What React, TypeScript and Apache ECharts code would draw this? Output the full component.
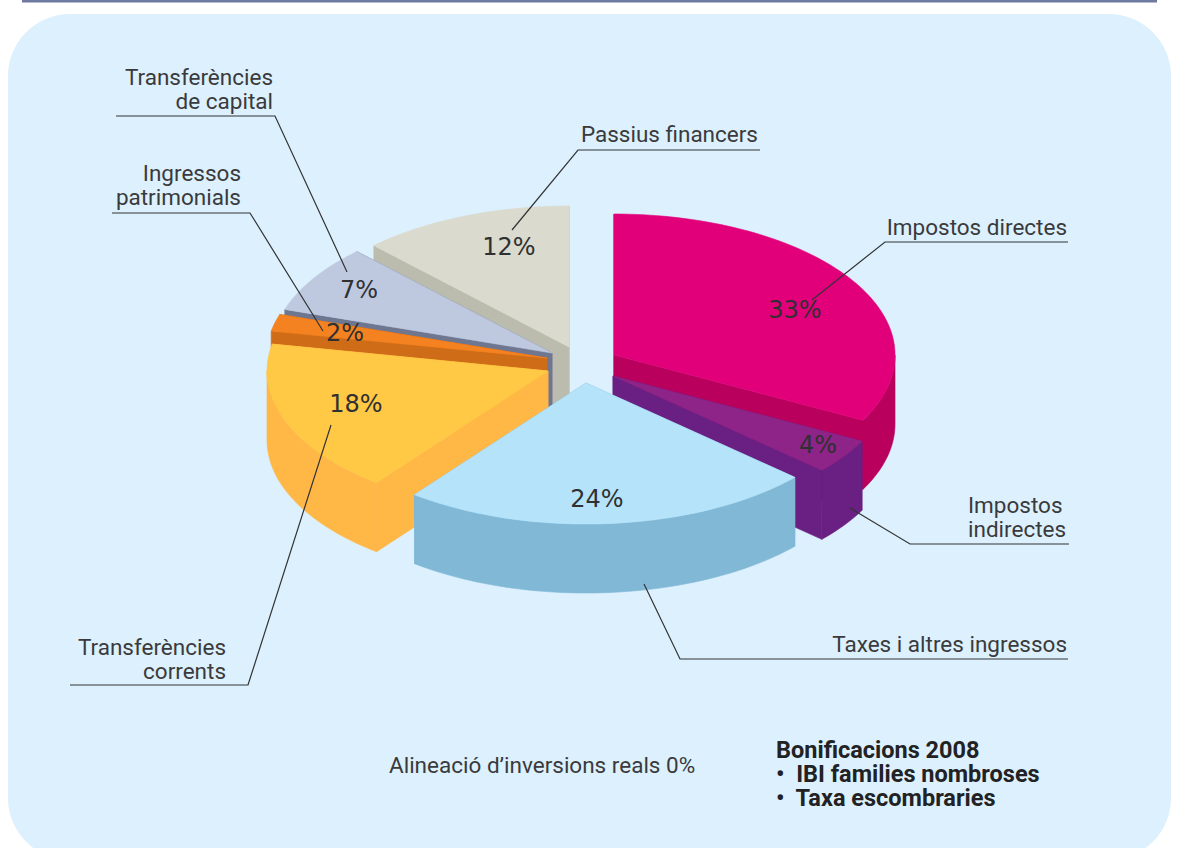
import React, { useEffect, useRef } from "react";
import * as echarts from "echarts";

// ---- data, clockwise from twelve o'clock
const categories = [
  "Impostos directes",
  "Impostos indirectes",
  "Taxes i altres ingressos",
  "Transferències corrents",
  "Ingressos patrimonials",
  "Transferències de capital",
  "Passius financers",
];
const shares = [33, 4, 24, 18, 2, 7, 12];
const footnote = "Alineació d’inversions reals 0%";
const bonusLines = ["{t|Bonificacions 2008}", "{t|•  IBI families nombroses}", "{t|•  Taxa escombraries}"];

// ---- styling and layout of the exploded 3D pie
const topColors = ["#E2007A", "#8E2388", "#B5E4FA", "#FFC845", "#F58220", "#BEC9DF", "#DADACE"];
const wallColors = ["#B8005C", "#6A1F82", "#80B8D6", "#FFB746", "#CF6C17", "#6F7690", "#BCBCAE"];
const apexX = [614, 613, 586, 548, 547, 552, 569];
const apexY = [355, 376, 383, 371, 358, 353, 347];
const startNudge = [0, -1.2, -1.2, -2, -3.4, -3.6, -0.8];
const endNudge = [-1.2, -1.2, -2, -3.4, -3.6, -0.8, 0];
const percentX = [795, 818, 597, 356, 345, 359, 509];
const percentY = [310, 445, 499, 404, 333, 290, 247];
const drawOrder = [6, 5, 4, 3, 0, 1, 2];
const RX = 281;
const RY = 141;
const DEPTH = 69;

const LABEL_FONT = "Roboto";
const PCT_FONT = "DejaVu Sans";
const INK = "#3a3a3c";

function at(i: number, deg: number): number[] {
  const r = (deg * Math.PI) / 180;
  return [apexX[i] + RX * Math.sin(r), apexY[i] - RY * Math.cos(r)];
}
function range(i: number): number[] {
  let acc = 0;
  for (let k = 0; k < i; k++) acc += shares[k];
  return [(acc / 100) * 360 + startNudge[i], ((acc + shares[i]) / 100) * 360 + endNudge[i]];
}
function arc(i: number, a: number, b: number): number[][] {
  const pts: number[][] = [];
  const n = Math.max(2, Math.ceil((b - a) / 1.5));
  for (let k = 0; k <= n; k++) pts.push(at(i, a + ((b - a) * k) / n));
  return pts;
}
const down = (p: number[]) => [p[0], p[1] + DEPTH];
const poly = (points: number[][], fill: string, stroke?: string) => ({
  type: "polygon",
  shape: { points },
  style: { fill, stroke: stroke || fill, lineWidth: 0.6 },
});

function renderSlice(_: any, api: any) {
  const i = api.value(1) as number;
  const [a, b] = range(i);
  const apex = [apexX[i], apexY[i]];
  const wall = wallColors[i];
  const children: any[] = [];
  const pa = at(i, a);
  const pb = at(i, b);
  children.push(poly([apex, pa, down(pa), down(apex)], wall));
  children.push(poly([apex, pb, down(pb), down(apex)], wall));
  const lo = Math.max(a, 90);
  const hi = Math.min(b, 270);
  if (hi > lo) {
    const outer = arc(i, lo, hi);
    children.push(poly([...outer, ...outer.slice().reverse().map(down)], wall));
  }
  children.push(poly([apex, ...arc(i, a, b)], topColors[i]));
  return { type: "group", children };
}

function renderPercent(_: any, api: any) {
  const i = api.value(1) as number;
  return {
    type: "text",
    x: percentX[i],
    y: percentY[i],
    style: {
      text: api.value(0) + "%",
      fontFamily: PCT_FONT,
      fontSize: 24,
      fill: "#303032",
      align: "center",
      verticalAlign: "middle",
    },
  };
}

const leaders: number[][][] = [
  [[1068, 242], [885, 242], [812, 300]],
  [[1069, 544], [910, 544], [850, 508]],
  [[1068, 659], [680, 659], [644, 584]],
  [[70, 685], [248, 685], [331, 425]],
  [[112, 213], [250, 213], [323, 331]],
  [[116, 116], [275, 116], [347, 272]],
  [[760, 150], [578, 150], [512, 230]],
];
const labelTexts: [string, number, number, string][] = [
  ["Impostos directes", 1067, 227, "right"],
  ["Impostos", 968, 505, "left"],
  ["indirectes", 968, 529, "left"],
  ["Taxes i altres ingressos", 1067, 644, "right"],
  ["Transferències", 226, 647, "right"],
  ["corrents", 226, 671, "right"],
  ["Ingressos", 241, 173, "right"],
  ["patrimonials", 241, 197, "right"],
  ["Transferències", 273, 77, "right"],
  ["de capital", 273, 101, "right"],
  ["Passius financers", 758, 134, "right"],
];

export default function App() {
  const ref = useRef<HTMLDivElement>(null);
  useEffect(() => {
    document.body.style.margin = "0";
    document.body.style.background = "#ffffff";
    const chart = echarts.init(ref.current!, undefined, { renderer: "svg" });
    const rows = drawOrder.map((i) => ({ name: categories[i], value: [shares[i], i] }));
    const textEl = (text: string, x: number, y: number, align: string, size: number, weight: any = "normal", fill = INK) => ({
      type: "text",
      z: 100,
      x,
      y,
      style: { text, x: 0, y: 0, fontFamily: LABEL_FONT, fontSize: size, fontWeight: weight, fill, align, verticalAlign: "middle" },
    });
    chart.setOption({
      animation: false,
      backgroundColor: "#ffffff",
      graphic: [
        { type: "rect", z: -10, shape: { x: 8, y: 14, width: 1163, height: 846, r: 62 }, style: { fill: "#DCF0FD" } },
        { type: "rect", z: -10, shape: { x: 22, y: 0, width: 1135, height: 2.4 }, style: { fill: "#6F7AA0" } },
        ...leaders.map((points) => ({
          type: "polyline",
          z: 100,
          shape: { points },
          style: { stroke: "#333335", lineWidth: 1.2, fill: "none" },
        })),
        ...labelTexts.map(([t, x, y, a]) => textEl(t, x, y, a, 22.5)),
        textEl(footnote, 389, 765, "left", 22.5),
        {
          type: "text",
          z: 100,
          x: 776,
          y: 738,
          style: {
            text: bonusLines.join("\n"),
            rich: { t: { fontFamily: LABEL_FONT, fontSize: 23.5, fontWeight: "bold", fill: "#222224", lineHeight: 24 } },
            fontFamily: LABEL_FONT,
            fontSize: 23.5,
            fontWeight: "bold",
            fill: "#222224",
            lineHeight: 24,
            align: "left",
            verticalAlign: "top",
          },
        },
      ],
      series: [
        { type: "custom", coordinateSystem: "none", z: 2, silent: true, data: rows, renderItem: renderSlice },
        { type: "custom", coordinateSystem: "none", z: 3, silent: true, data: rows, renderItem: renderPercent },
      ],
    });
    return () => chart.dispose();
  }, []);
  return <div ref={ref} style={{ position: "absolute", left: 0, top: 0, width: 1179, height: 848 }} />;
}
